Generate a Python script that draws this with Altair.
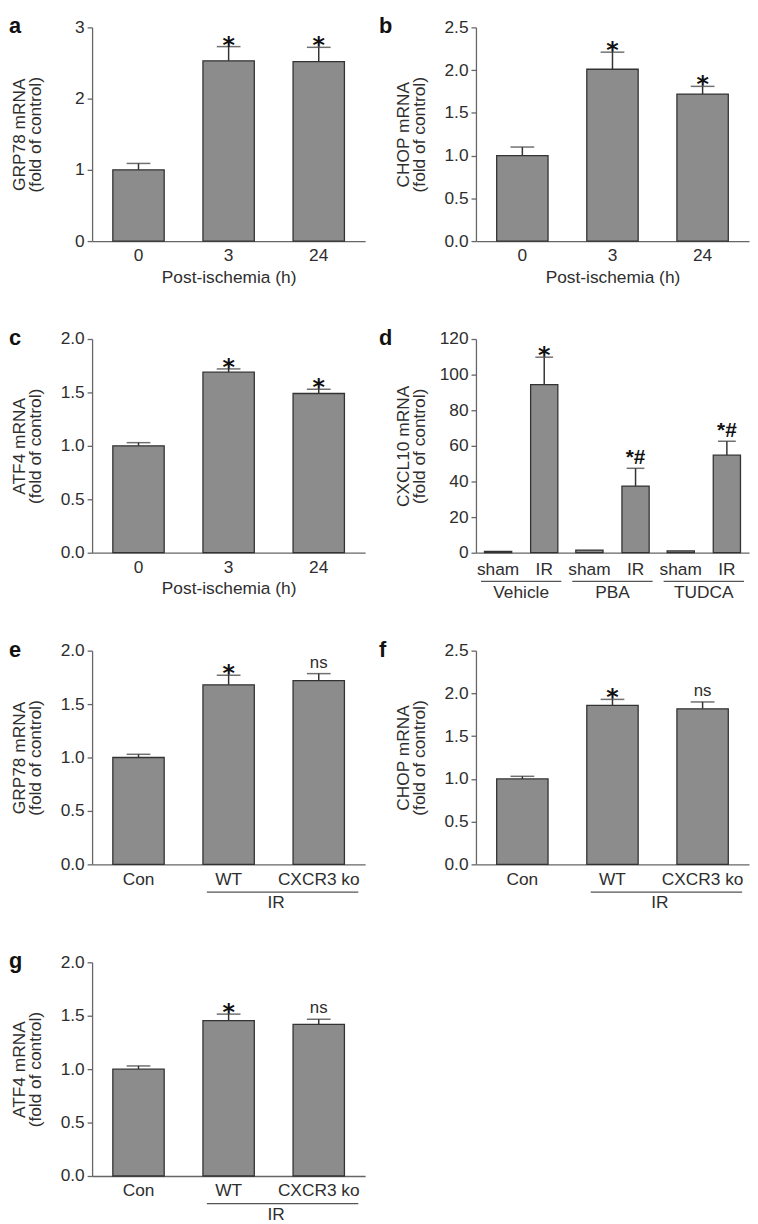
import altair as alt
import pandas as pd

FONT = "Liberation Sans"
BAR_FILL = "#8c8c8c"
EDGE = "#333333"
AXIS = "#666666"
TEXT = "#2e2e2e"
FS = 17.5
H = 216
W = 276

# ---------------- data ----------------
time_cats = ["0", "3", "24"]
grp78_time = [1.0, 2.53, 2.52]
grp78_time_err = [1.09, 2.73, 2.72]
grp78_time_mark = ["", "*", "*"]

chop_time = [1.0, 2.01, 1.72]
chop_time_err = [1.10, 2.21, 1.81]
chop_time_mark = ["", "*", "*"]

atf4_time = [1.0, 1.69, 1.49]
atf4_time_err = [1.03, 1.72, 1.53]
atf4_time_mark = ["", "*", "*"]

cx_groups = ["Vehicle", "Vehicle", "PBA", "PBA", "TUDCA", "TUDCA"]
cx_conds = ["sham", "IR", "sham", "IR", "sham", "IR"]
cxcl10 = [0.8, 94.4, 1.5, 37.4, 1.0, 54.8]
cxcl10_err = [0.8, 109.8, 1.5, 47.4, 1.0, 62.6]
cxcl10_mark = ["", "*", "", "*#", "", "*#"]
group_order = ["Vehicle", "PBA", "TUDCA"]
cond_order = ["sham", "IR"]

ko_cats = ["Con", "WT", "CXCR3 ko"]
grp78_ko = [1.0, 1.68, 1.72]
grp78_ko_err = [1.03, 1.77, 1.785]
chop_ko = [1.0, 1.86, 1.82]
chop_ko_err = [1.03, 1.93, 1.90]
atf4_ko = [1.0, 1.455, 1.42]
atf4_ko_err = [1.03, 1.515, 1.467]
ko_mark = ["", "*", "ns"]
bracket_from = ["WT"]
bracket_to = ["CXCR3 ko"]
bracket_label = ["IR"]


def letter_layer(letter, lx):
    return alt.Chart(pd.DataFrame({"t": [letter]})).mark_text(
        align="left", baseline="top", fontSize=22, fontWeight="bold",
        font=FONT, color="#111111"
    ).encode(text="t:N", x=alt.value(lx), y=alt.value(-11))


def yaxis_for(ticks, fmt, title):
    return alt.Axis(values=ticks, format=fmt, title=title, titleX=-64, titleY=H / 2,
                    titleAngle=270, titleAlign="center", titleBaseline="bottom",
                    titleLineHeight=15.5, tickSize=5, labelPadding=3)


def annot_layers(df, xenc, yerr, extra=None):
    extra = extra or {}
    star = alt.Chart(df).transform_filter("datum.mark == '*'").mark_text(
        font="DejaVu Sans", fontWeight="bold", fontSize=24, baseline="alphabetic",
        dy=6, color="#111111").encode(x=xenc, y=yerr, text="mark:N", **extra)
    starhash = alt.Chart(df).transform_filter("datum.mark == '*#'").mark_text(
        font=FONT, fontWeight="bold", fontSize=21, baseline="alphabetic",
        dy=-4, color="#111111").encode(
        x=xenc, y=yerr, text="mark:N", **extra)
    ns = alt.Chart(df).transform_filter("datum.mark == 'ns'").mark_text(
        font=FONT, fontSize=17, baseline="alphabetic", dy=-6,
        color=TEXT).encode(x=xenc, y=yerr, text="mark:N", **extra)
    return [star, starhash, ns]


def simple_panel(letter, lx, cats, vals, errs, marks, ymax, ticks, fmt, ytitle,
                 xtitle, bracket=False):
    df = pd.DataFrame({"cat": cats, "val": vals, "err": errs, "mark": marks})
    xs = alt.Scale(domain=cats, paddingInner=0.43, paddingOuter=0.23)
    xaxis = alt.Axis(title=xtitle, ticks=False, labelAngle=0, labelPadding=6,
                     titlePadding=4)
    ys = alt.Scale(domain=[0, ymax], nice=False)
    yaxis = yaxis_for(ticks, fmt, ytitle)
    X = alt.X("cat:N", scale=xs, axis=xaxis)
    bars = alt.Chart(df).mark_bar(fill=BAR_FILL, stroke=EDGE, strokeWidth=1.3).encode(
        x=X, y=alt.Y("val:Q", scale=ys, axis=yaxis))
    err = alt.Chart(df).mark_rule(color=EDGE, strokeWidth=1.5).encode(
        x=X, y=alt.Y("val:Q", scale=ys, axis=yaxis), y2="err:Q")
    cap = alt.Chart(df).mark_tick(color=EDGE, thickness=1.5, size=24,
                                  orient="horizontal").encode(
        x=X, y=alt.Y("err:Q", scale=ys, axis=yaxis))
    yerr = alt.Y("err:Q", scale=ys, axis=yaxis)
    layers = [err, cap, bars] + annot_layers(df, X, yerr) + [letter_layer(letter, lx)]
    if bracket:
        bdf = pd.DataFrame({"a": bracket_from, "b": bracket_to, "t": bracket_label})
        rule = alt.Chart(bdf).mark_rule(color="#555555", strokeWidth=1.3,
                                        xOffset=-22, x2Offset=40).encode(
            x=alt.X("a:N", scale=xs, axis=xaxis), x2="b:N", y=alt.value(H + 28))
        lab = alt.Chart(bdf).mark_text(font=FONT, fontSize=FS, color=TEXT, dx=48,
                                       baseline="middle").encode(
            x=alt.X("a:N", scale=xs, axis=xaxis), y=alt.value(H + 39), text="t:N")
        layers += [rule, lab]
    return alt.layer(*layers).properties(width=W, height=H)


def cxcl10_panel():
    df = pd.DataFrame({"group": cx_groups, "cond": cx_conds, "val": cxcl10,
                       "err": cxcl10_err, "mark": cxcl10_mark})
    xs = alt.Scale(domain=group_order, paddingInner=0.12, paddingOuter=0.055)
    xaxis = alt.Axis(title="", ticks=False, labelAngle=0, labelPadding=31)
    X = alt.X("group:N", scale=xs, axis=xaxis)
    XO = alt.XOffset("cond:N", scale=alt.Scale(domain=cond_order, paddingInner=0.41,
                                                paddingOuter=0.076))
    ys = alt.Scale(domain=[0, 120], nice=False)
    yaxis = yaxis_for([0, 20, 40, 60, 80, 100, 120], "d", ["CXCL10 mRNA", "(fold of control)"])
    bars = alt.Chart(df).mark_bar(fill=BAR_FILL, stroke=EDGE, strokeWidth=1.3).encode(
        x=X, xOffset=XO, y=alt.Y("val:Q", scale=ys, axis=yaxis))
    err = alt.Chart(df).mark_rule(color=EDGE, strokeWidth=1.5).encode(
        x=X, xOffset=XO, y=alt.Y("val:Q", scale=ys, axis=yaxis), y2="err:Q")
    cap = alt.Chart(df).transform_filter("datum.err > datum.val").mark_tick(
        color=EDGE, thickness=1.5, size=18, orient="horizontal").encode(
        x=X, xOffset=XO, y=alt.Y("err:Q", scale=ys, axis=yaxis))
    yerr = alt.Y("err:Q", scale=ys, axis=yaxis)
    conds = alt.Chart(df).mark_text(font=FONT, fontSize=FS, color=TEXT,
                                    baseline="middle").encode(
        x=X, xOffset=XO, y=alt.value(H + 18), text="cond:N")
    under = alt.Chart(pd.DataFrame({"group": group_order})).mark_bar(
        color="#555555").encode(x=X, y=alt.value(H + 28.4), y2=alt.value(H + 29.7))
    layers = [err, cap, bars] + annot_layers(df, X, yerr, {"xOffset": XO}) + \
        [conds, under, letter_layer("d", -98)]
    return alt.layer(*layers).properties(width=W, height=H)


pa = simple_panel("a", -84, time_cats, grp78_time, grp78_time_err, grp78_time_mark,
                  3, [0, 1, 2, 3], "d", ["GRP78 mRNA", "(fold of control)"],
                  "Post-ischemia (h)")
pb = simple_panel("b", -98, time_cats, chop_time, chop_time_err, chop_time_mark,
                  2.5, [0, 0.5, 1.0, 1.5, 2.0, 2.5], ".1f",
                  ["CHOP mRNA", "(fold of control)"], "Post-ischemia (h)")
pc = simple_panel("c", -84, time_cats, atf4_time, atf4_time_err, atf4_time_mark,
                  2.0, [0, 0.5, 1.0, 1.5, 2.0], ".1f",
                  ["ATF4 mRNA", "(fold of control)"], "Post-ischemia (h)")
pd_ = cxcl10_panel()
pe = simple_panel("e", -84, ko_cats, grp78_ko, grp78_ko_err, ko_mark,
                  2.0, [0, 0.5, 1.0, 1.5, 2.0], ".1f",
                  ["GRP78 mRNA", "(fold of control)"], "", bracket=True)
pf = simple_panel("f", -98, ko_cats, chop_ko, chop_ko_err, ko_mark,
                  2.5, [0, 0.5, 1.0, 1.5, 2.0, 2.5], ".1f",
                  ["CHOP mRNA", "(fold of control)"], "", bracket=True)
pg = simple_panel("g", -84, ko_cats, atf4_ko, atf4_ko_err, ko_mark,
                  2.0, [0, 0.5, 1.0, 1.5, 2.0], ".1f",
                  ["ATF4 mRNA", "(fold of control)"], "", bracket=True)

chart = alt.concat(pa, pb, pc, pd_, pe, pf, pg, columns=2,
                   spacing={"row": 99, "column": 112}, bounds="flush").properties(
    padding=0, background="white"
).configure_view(stroke="transparent").configure_axis(
    labelFont=FONT, titleFont=FONT, labelColor=TEXT, titleColor=TEXT,
    domainColor=AXIS, tickColor=AXIS, domainWidth=1.3, tickWidth=1.3, grid=False,
    titleFontWeight="normal", labelFontSize=FS, titleFontSize=FS
)

chart.save("out.html", embed_options={"renderer": "svg", "actions": False})
